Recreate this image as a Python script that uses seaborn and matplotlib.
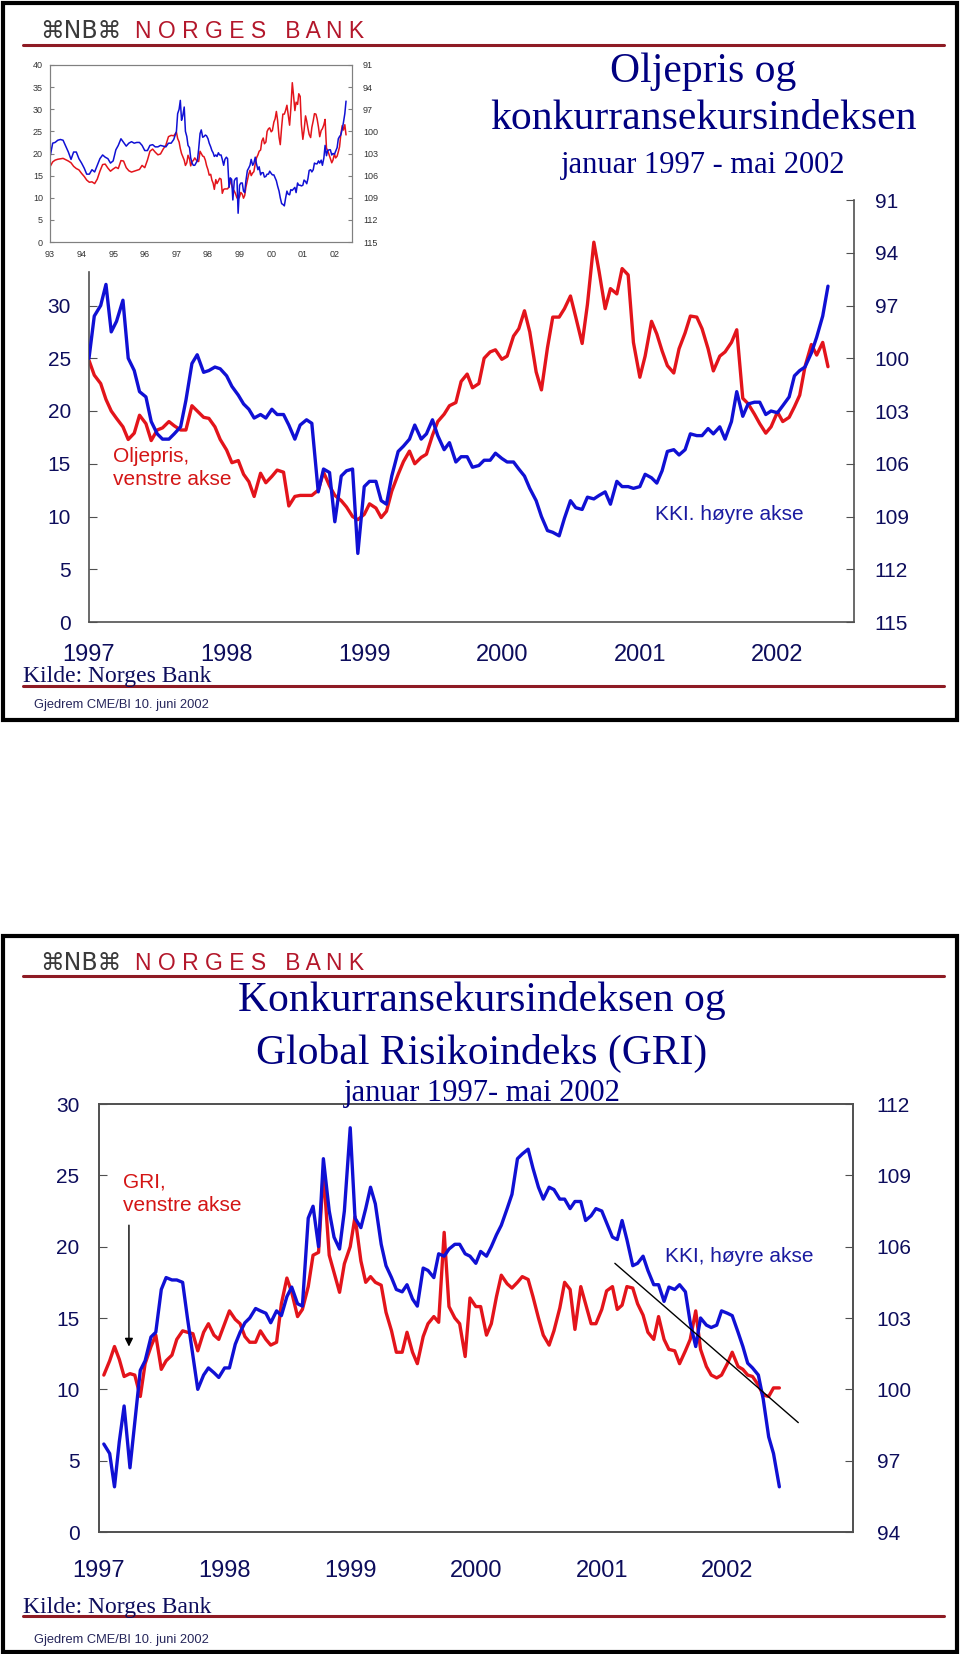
import matplotlib
matplotlib.use("Agg")
import matplotlib.pyplot as plt
from matplotlib import font_manager
from matplotlib.lines import Line2D
from matplotlib.patches import Rectangle
import pandas as pd
import seaborn as sns

# ---------------------------------------------------------------- data
# Slide 1: oil price (left axis) and KKI (right axis, inverted),
# two readings a month, January 1997 - May 2002
oil_price = [24.8, 23.4, 22.6, 21.1, 20.0, 19.3, 18.5, 17.3, 17.9, 19.6,
             18.8, 17.2, 18.2, 18.4, 19.0, 18.6, 18.2, 18.2, 20.5, 20.0,
             19.4, 19.3, 18.5, 17.3, 16.3, 15.1, 15.3, 14.0, 13.3, 11.9,
             14.1, 13.2, 13.8, 14.4, 14.2, 11.0, 11.9, 12.0, 12.0, 12.0,
             12.5, 14.2, 12.9, 12.0, 11.5, 10.9, 10.0, 9.7, 10.2, 11.2,
             10.8, 9.9, 10.5, 12.4, 14.0, 15.2, 16.2, 15.0, 15.6, 15.9,
             17.7, 19.0, 19.7, 20.5, 20.8, 22.8, 23.5, 22.2, 22.6, 25.0,
             25.6, 25.8, 24.9, 25.2, 27.1, 27.8, 29.5, 27.5, 23.7, 22.0,
             26.0, 28.9, 28.9, 29.7, 30.9, 28.9, 26.4, 30.1, 36.0, 33.2,
             29.7, 31.6, 31.1, 33.5, 32.9, 26.5, 23.2, 25.2, 28.5, 27.3,
             25.7, 24.3, 23.6, 25.9, 27.4, 29.0, 28.9, 27.8, 25.9, 23.8,
             25.2, 25.6, 26.5, 27.7, 21.2, 20.7, 19.7, 18.8, 17.9, 18.5,
             19.9, 19.0, 19.4, 20.4, 21.5, 24.2, 26.3, 25.3, 26.5, 24.2]
kki_slide1 = [100.0, 97.6, 97.0, 95.8, 98.5, 97.9, 96.7, 100.0, 100.7, 101.9,
              102.2, 103.6, 104.3, 104.6, 104.6, 104.3, 103.9, 102.4, 100.3, 99.8,
              100.8, 100.7, 100.5, 100.6, 101.0, 101.6, 102.1, 102.6, 102.9, 103.4,
              103.2, 103.4, 102.9, 103.2, 103.2, 103.8, 104.6, 103.8, 103.5, 103.7,
              107.6, 106.3, 106.5, 109.3, 106.7, 106.4, 106.3, 111.1, 107.3, 107.0,
              107.0, 108.1, 108.3, 106.7, 105.3, 105.0, 104.6, 103.8, 104.6, 104.3,
              103.5, 104.4, 105.2, 104.8, 105.9, 105.6, 105.6, 106.2, 106.1, 105.8,
              105.8, 105.4, 105.7, 105.9, 105.9, 106.3, 106.7, 107.4, 108.1, 109.0,
              109.8, 109.9, 110.1, 109.1, 108.1, 108.5, 108.6, 107.9, 108.0, 107.8,
              107.6, 108.3, 107.0, 107.3, 107.3, 107.4, 107.3, 106.6, 106.8, 107.1,
              106.4, 105.3, 105.2, 105.5, 105.2, 104.3, 104.4, 104.4, 104.0, 104.3,
              103.9, 104.6, 103.6, 101.9, 103.3, 102.6, 102.5, 102.5, 103.2, 103.0,
              103.1, 102.7, 102.2, 101.0, 100.7, 100.5, 99.7, 98.8, 97.6, 95.9]

# Inset: monthly values 1993-1996 (continues with the series above)
oil_price_93_96 = [17.0, 18.1, 18.5, 18.7, 18.8, 18.9, 18.6, 18.3, 17.9, 17.1,
                   16.6, 16.3, 15.5, 14.8, 14.0, 13.5, 13.6, 13.2, 14.2, 16.0,
                   17.5, 17.6, 16.7, 16.0, 16.5, 16.9, 16.6, 18.4, 18.3, 16.8,
                   16.1, 15.8, 16.0, 16.2, 16.4, 17.3, 16.8, 18.5, 20.5, 21.0,
                   20.3, 19.7, 19.9, 21.0, 21.9, 23.8, 24.1, 24.0]
kki_93_96 = [103.5, 101.6, 101.5, 101.2, 101.1, 101.2, 102.0, 102.8, 103.8, 102.8,
             102.8, 103.7, 104.3, 105.0, 105.8, 105.8, 105.2, 105.5, 104.6, 103.7,
             103.2, 103.5, 103.7, 104.3, 104.0, 102.5, 101.9, 101.0, 101.5, 102.0,
             101.6, 101.4, 101.6, 101.5, 101.5, 101.9, 102.6, 102.6, 101.9, 101.8,
             102.1, 102.1, 101.9, 102.0, 102.1, 101.6, 101.6, 101.1]

# Slide 2: GRI (left axis) and KKI (right axis), two readings a month
gri = [11.0, 12.0, 13.0, 12.1, 10.9, 11.1, 11.0, 9.5, 11.8, 13.0,
       13.8, 11.4, 12.0, 12.4, 13.5, 14.1, 14.0, 13.9, 12.7, 14.0,
       14.6, 13.8, 13.5, 14.6, 15.5, 14.9, 14.6, 13.7, 13.3, 13.3,
       14.1, 13.5, 13.1, 13.3, 16.0, 17.8, 16.8, 15.1, 15.6, 17.2,
       19.4, 19.6, 25.3, 19.4, 18.2, 16.8, 18.8, 20.0, 22.1, 19.0,
       17.5, 17.9, 17.5, 17.3, 15.4, 14.1, 12.6, 12.6, 14.0, 12.6,
       11.8, 13.7, 14.6, 15.1, 14.7, 21.0, 15.8, 15.0, 14.6, 12.3,
       16.4, 15.8, 15.8, 13.8, 14.6, 16.5, 18.0, 17.4, 17.1, 17.5,
       17.9, 17.7, 16.5, 15.0, 13.8, 13.1, 14.1, 15.7, 17.5, 17.0,
       14.2, 17.2, 16.0, 14.6, 14.6, 15.6, 16.9, 17.2, 15.6, 15.9,
       17.2, 17.1, 16.0, 15.2, 14.0, 13.5, 15.1, 13.5, 12.8, 12.7,
       11.8, 12.7, 13.5, 15.5, 12.8, 11.6, 11.0, 10.8, 11.0, 11.8,
       12.6, 11.6, 11.4, 11.0, 10.9, 10.3, 9.6, 9.5, 10.1, 10.1]
kki_slide2 = [97.7, 97.3, 95.9, 97.8, 99.3, 96.7, 98.6, 100.8, 101.2, 102.2,
              102.4, 104.2, 104.7, 104.6, 104.6, 104.5, 103.0, 101.4, 100.0, 100.6,
              100.9, 100.7, 100.5, 100.9, 100.9, 101.9, 102.4, 102.8, 103.0, 103.4,
              103.3, 103.2, 102.8, 103.3, 103.1, 103.9, 104.3, 103.6, 103.5, 107.2,
              107.7, 106.0, 109.7, 107.5, 106.4, 105.9, 107.5, 111.0, 107.2, 106.8,
              107.6, 108.5, 107.8, 106.1, 105.2, 104.7, 104.2, 104.1, 104.4, 103.8,
              103.5, 105.1, 105.0, 104.7, 105.7, 105.6, 105.9, 106.1, 106.1, 105.7,
              105.6, 105.3, 105.8, 105.6, 106.0, 106.5, 106.9, 107.6, 108.2, 109.7,
              109.9, 110.1, 109.3, 108.5, 108.0, 108.5, 108.4, 108.0, 108.0, 107.6,
              107.9, 107.9, 107.1, 107.3, 107.6, 107.5, 107.0, 106.4, 106.3, 107.1,
              106.3, 105.2, 105.3, 105.6, 105.0, 104.4, 104.4, 103.7, 104.3, 104.2,
              104.4, 104.1, 102.8, 101.8, 103.0, 102.7, 102.6, 102.7, 103.3, 103.2,
              103.1, 102.4, 101.8, 101.1, 100.9, 100.6, 99.6, 98.0, 97.3, 95.9]

trend_dates = ["2001-02-08", "2002-07-26"]
trend_kki = [105.3, 98.6]
arrow_date = "1997-03-29"
arrow_gri = [21.7, 12.8]   # start, end

years = [1997, 1998, 1999, 2000, 2001, 2002]
year_labels = ["1997", "1998", "1999", "2000", "2001", "2002"]
inset_years = list(range(1993, 2003))
inset_labels = ["93", "94", "95", "96", "97", "98", "99", "00", "01", "02"]
oil_ticks = [0, 5, 10, 15, 20, 25, 30]
inset_oil_ticks = [0, 5, 10, 15, 20, 25, 30, 35, 40]
kki_ticks_1 = [91, 94, 97, 100, 103, 106, 109, 112, 115]
gri_ticks = [0, 5, 10, 15, 20, 25, 30]
kki_ticks_2 = [94, 97, 100, 103, 106, 109, 112]

# ---------------------------------------------------------------- style
sns.set_style("white")
installed = {f.name for f in font_manager.fontManager.ttflist}
SANS = "Liberation Sans" if "Liberation Sans" in installed else "DejaVu Sans"
NARROW = "Liberation Sans Narrow" if "Liberation Sans Narrow" in installed else SANS
SERIF = "Liberation Serif" if "Liberation Serif" in installed else "DejaVu Serif"
plt.rcParams["font.family"] = [SANS, "DejaVu Sans"]

RED = "#e3141b"
BLUE = "#1010d4"
NAVY = "#0d0d5c"
TITLE = "#000080"
RULE = "#8e1b24"
LOGO_RED = "#b3172b"
SPINE = "#505050"

W, H = 960, 1654
fig = plt.figure(figsize=(W / 100, H / 100), dpi=100)


def fx(x):
    return x / W


def fy(y):
    return 1 - y / H


def box(x0, y0, x1, y1):
    return [fx(x0), fy(y1), (x1 - x0) / W, (y1 - y0) / H]


def to_dates(values):
    return pd.to_datetime([f"{v}-01-01" for v in values])


def slide_frame(top, bottom, logo_y, rule_y, kilde_y, rule2_y, foot_y):
    fig.add_artist(Rectangle((fx(3), fy(bottom)), (954) / W, (bottom - top) / H,
                             transform=fig.transFigure, fill=False, lw=3, ec="black"))
    fig.text(fx(40), fy(logo_y), "\u2318NB\u2318", family=["DejaVu Sans"], size=17,
             color="#3a3a3a", va="center", ha="left")
    fig.text(fx(135), fy(logo_y), "N O R G E S   B A N K", size=16.5, color=LOGO_RED,
             va="center", ha="left")
    for yy in (rule_y, rule2_y):
        fig.add_artist(Line2D([fx(23), fx(944)], [fy(yy), fy(yy)], color=RULE, lw=2.2,
                              transform=fig.transFigure))
    fig.text(fx(23), fy(kilde_y), "Kilde: Norges Bank", family=SERIF, size=17,
             color=NAVY, va="center", ha="left")
    fig.text(fx(34), fy(foot_y), "Gjedrem CME/BI 10. juni 2002", family=NARROW, size=9.3,
             color="#25255a", va="center", ha="left")


# ---------------------------------------------------------------- slide 1
slide_frame(3, 720, 31, 45, 676, 686, 705)
fig.text(fx(703), fy(72), "Oljepris og", family=SERIF, size=30, color=TITLE,
         ha="center", va="center")
fig.text(fx(703), fy(119), "konkurransekursindeksen", family=SERIF, size=30, color=TITLE,
         ha="center", va="center")
fig.text(fx(703), fy(166), "januar 1997 - mai 2002", family=SERIF, size=22, color=TITLE,
         ha="center", va="center")

dates1 = pd.date_range("1997-01-01", periods=len(oil_price), freq="SMS")

ax1 = fig.add_axes(box(89, 200, 854, 622))
sns.lineplot(x=dates1, y=oil_price, ax=ax1, color=RED, linewidth=2.4)
ax1r = ax1.twinx()
sns.lineplot(x=dates1, y=kki_slide1, ax=ax1r, color=BLUE, linewidth=2.4)

ax1.set_ylim(0, 40)
ax1r.set_ylim(115, 91)
ax1.set_xlim(pd.Timestamp("1997-01-01"), pd.Timestamp("2002-07-23"))
ax1.set_yticks(oil_ticks, [str(t) for t in oil_ticks])
ax1r.set_yticks(kki_ticks_1, [str(t) for t in kki_ticks_1])
ax1.set_xticks(to_dates(years), year_labels, family=NARROW)
for a in (ax1, ax1r):
    a.set_xlabel("")
    a.set_ylabel("")
    for s in a.spines.values():
        s.set_color(SPINE)
        s.set_linewidth(1.2)
ax1.spines["top"].set_visible(False)
ax1.spines["right"].set_visible(False)
ax1.spines["left"].set_bounds(0, 33.2)
for side in ("top", "left", "bottom"):
    ax1r.spines[side].set_visible(False)
ax1.tick_params(axis="y", direction="in", length=6, color=SPINE, labelsize=15,
                pad=13, labelcolor=NAVY)
ax1.tick_params(axis="x", direction="in", length=7, color=SPINE, labelsize=17,
                pad=16, labelcolor=NAVY)
ax1r.tick_params(axis="y", direction="in", length=6, color=SPINE, labelsize=15,
                 pad=15, labelcolor=NAVY)

fig.text(fx(113), fy(468), "Oljepris,\nvenstre akse", size=15, color="#d41515",
         ha="left", va="center", linespacing=1.3)
fig.text(fx(655), fy(514), "KKI. h\u00f8yre akse", size=15, color="#1a1aa0",
         ha="left", va="center")

# inset: 1993 - 2002
inset_dates = pd.date_range("1993-01-01", periods=len(oil_price_93_96), freq="MS").append(dates1)
axi = fig.add_axes(box(50, 65, 352, 242))
sns.lineplot(x=inset_dates, y=oil_price_93_96 + oil_price, ax=axi, color=RED, linewidth=1.1)
axir = axi.twinx()
sns.lineplot(x=inset_dates, y=kki_93_96 + kki_slide1, ax=axir, color=BLUE, linewidth=1.1)
axi.set_ylim(0, 40)
axir.set_ylim(115, 91)
axi.set_xlim(pd.Timestamp("1993-01-01"), pd.Timestamp("2002-07-23"))
axi.set_yticks(inset_oil_ticks, [str(t) for t in inset_oil_ticks])
axir.set_yticks(kki_ticks_1, [str(t) for t in kki_ticks_1])
axi.set_xticks(to_dates(inset_years), inset_labels)
for a in (axi, axir):
    a.set_xlabel("")
    a.set_ylabel("")
    for s in a.spines.values():
        s.set_color("#808080")
        s.set_linewidth(0.8)
axi.tick_params(axis="both", direction="in", length=3, color="#808080", labelsize=6.5,
                pad=5, labelcolor="#333333")
axi.tick_params(axis="x", pad=6)
axir.tick_params(axis="y", direction="in", length=3, color="#808080", labelsize=6.5,
                 pad=8, labelcolor="#333333")

# ---------------------------------------------------------------- slide 2
slide_frame(936, 1652, 963, 976, 1608, 1616, 1640)
fig.text(fx(482), fy(1001), "Konkurransekursindeksen og", family=SERIF, size=30,
         color=TITLE, ha="center", va="center")
fig.text(fx(482), fy(1053), "Global Risikoindeks (GRI)", family=SERIF, size=30,
         color=TITLE, ha="center", va="center")
fig.text(fx(482), fy(1094), "januar 1997- mai 2002", family=SERIF, size=22,
         color=TITLE, ha="center", va="center")

dates2 = pd.date_range("1997-01-15", periods=len(gri), freq="SMS")

ax2 = fig.add_axes(box(99, 1104, 853, 1532))
sns.lineplot(x=dates2, y=gri, ax=ax2, color=RED, linewidth=2.4)
ax2.annotate("", xy=(pd.Timestamp(arrow_date), arrow_gri[1]),
             xytext=(pd.Timestamp(arrow_date), arrow_gri[0]),
             arrowprops=dict(arrowstyle="-|>", color="black", lw=1, mutation_scale=12))
ax2r = ax2.twinx()
sns.lineplot(x=dates2, y=kki_slide2, ax=ax2r, color=BLUE, linewidth=2.4)
sns.lineplot(x=pd.to_datetime(trend_dates), y=trend_kki, ax=ax2r, color="black", linewidth=1)

ax2.set_ylim(0, 30)
ax2r.set_ylim(94, 112)
ax2.set_xlim(pd.Timestamp("1997-01-01"), pd.Timestamp("2003-01-01"))
ax2.set_yticks(gri_ticks, [str(t) for t in gri_ticks])
ax2r.set_yticks(kki_ticks_2, [str(t) for t in kki_ticks_2])
ax2.set_xticks(to_dates(years), year_labels, family=NARROW)
for a in (ax2, ax2r):
    a.set_xlabel("")
    a.set_ylabel("")
    for s in a.spines.values():
        s.set_color(SPINE)
        s.set_linewidth(1.2)
ax2.tick_params(axis="y", direction="in", length=6, color=SPINE, labelsize=15,
                pad=14, labelcolor=NAVY)
ax2.tick_params(axis="x", direction="in", length=7, color=SPINE, labelsize=17,
                pad=20, labelcolor=NAVY)
ax2r.tick_params(axis="y", direction="in", length=6, color=SPINE, labelsize=15,
                 pad=17, labelcolor=NAVY)

fig.text(fx(123), fy(1194), "GRI,\nvenstre akse", size=15, color="#d41515",
         ha="left", va="center", linespacing=1.3)
fig.text(fx(665), fy(1256), "KKI, h\u00f8yre akse", size=15, color="#1a1aa0",
         ha="left", va="center")

fig.savefig("out.png", dpi=100, facecolor="white")
